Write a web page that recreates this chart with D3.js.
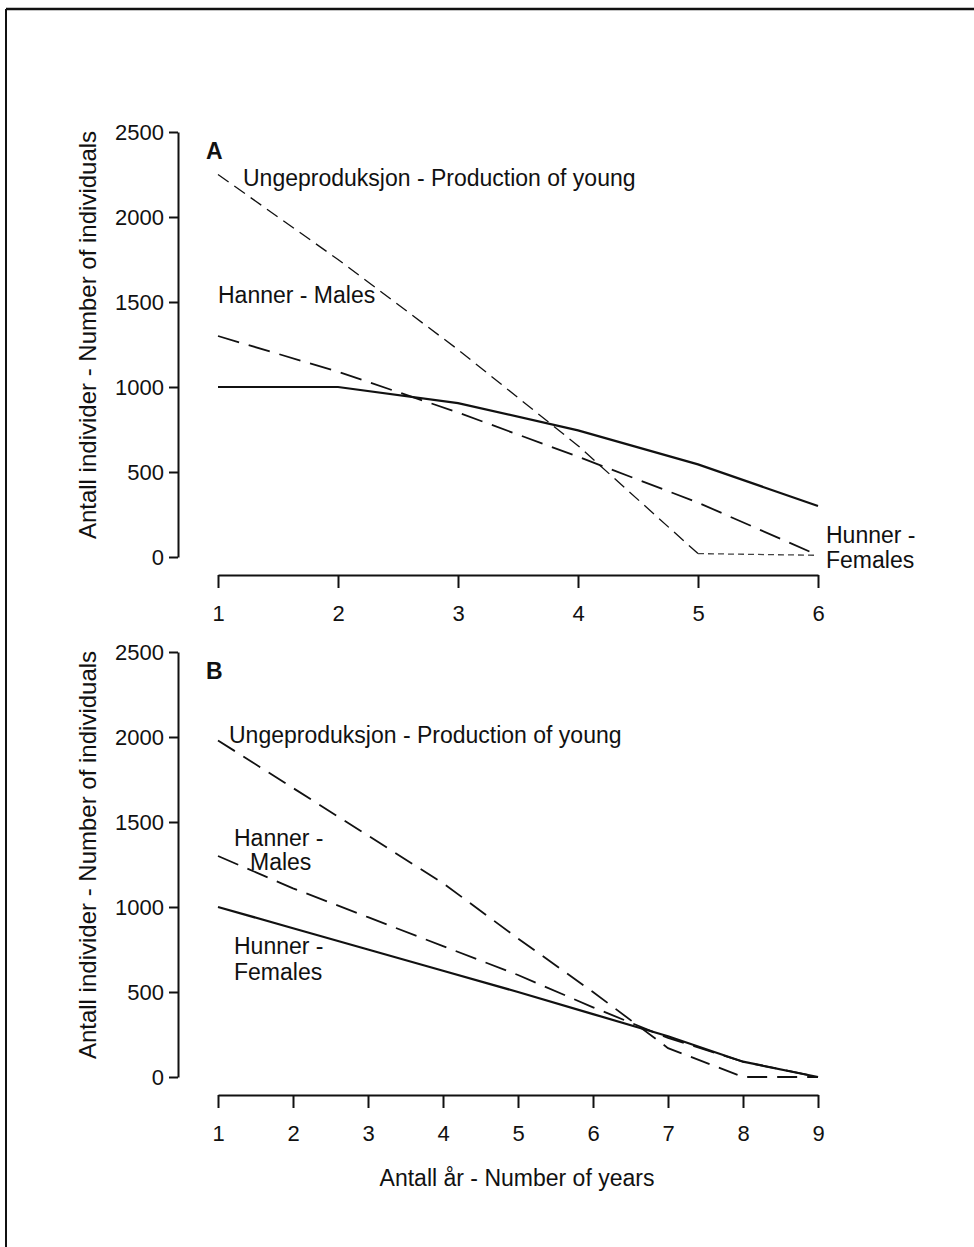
<!DOCTYPE html>
<html>
<head>
<meta charset="utf-8">
<script src="https://cdn.jsdelivr.net/npm/d3@7"></script>
<style>
  body { margin: 0; background: #fff; }
  svg text { font-family: "Liberation Sans", Arial, Helvetica, sans-serif; fill: #111; }
</style>
</head>
<body>
<svg width="974" height="1247"></svg>
<script>
// panel A
const yearsA = [1, 2, 3, 4, 5, 6];
const youngA = [2250, 1750, 1220, 655, 20, 10];
const malesA = [1300, 1090, 850, 590, 320, 10];
const femalesA = [1000, 1000, 905, 745, 545, 300];

// panel B
const yearsB = [1, 2, 3, 4, 5, 6, 7, 8, 9];
const youngB = [1980, 1700, 1420, 1140, 815, 500, 170, 0, 0];
const malesB = [1300, 1110, 940, 770, 600, 410, 230, 90, 0];
const femalesB = [1000, 875, 750, 625, 500, 370, 240, 90, 0];

const yTicks = [0, 500, 1000, 1500, 2000, 2500];

const svg = d3.select("svg");

// frame (top and left edges of the scanned box)
svg.append("line").attr("x1", 6).attr("y1", 9).attr("x2", 974).attr("y2", 9)
    .attr("stroke", "#111").attr("stroke-width", 2.5);
svg.append("line").attr("x1", 6).attr("y1", 9).attr("x2", 6).attr("y2", 1247)
    .attr("stroke", "#111").attr("stroke-width", 2);

function panel(opts) {
    const x = d3.scaleLinear().domain(d3.extent(opts.years)).range([218, 818]);
    const y = d3.scaleLinear().domain([0, 2500]).range([opts.y0, opts.y0 - 425]);

    const yAxis = svg.append("g")
        .attr("transform", "translate(178,0)")
        .call(d3.axisLeft(y).tickValues(yTicks).tickFormat(d3.format("d"))
            .tickSize(9).tickSizeOuter(0).tickPadding(5));
    const xAxis = svg.append("g")
        .attr("transform", `translate(0,${opts.y0 + 18})`)
        .call(d3.axisBottom(x).tickValues(opts.years).tickFormat(d3.format("d"))
            .tickSize(13).tickSizeOuter(0).tickPadding(17));

    [yAxis, xAxis].forEach(g => {
        g.select(".domain").attr("stroke", "#111").attr("stroke-width", 2);
        g.selectAll(".tick line").attr("stroke", "#111").attr("stroke-width", 2);
        g.selectAll(".tick text").attr("font-size", 22).attr("fill", "#111")
            .style("font-family", "Liberation Sans, Arial, sans-serif");
    });

    svg.append("text")
        .attr("transform", `translate(96,${opts.y0 - 222}) rotate(-90)`)
        .attr("text-anchor", "middle")
        .attr("font-size", 24)
        .text("Antall individer - Number of individuals");

    svg.append("text")
        .attr("x", 206).attr("y", opts.y0 - 398)
        .attr("font-size", 23).attr("font-weight", "bold")
        .text(opts.tag);

    const line = d3.line().x(d => x(d[0])).y(d => y(d[1]));

    opts.series.forEach(s => {
        const pts = opts.years.map((yr, i) => [yr, s.values[i]]);
        const main = s.cut ? pts.slice(0, s.cut) : pts;
        svg.append("path")
            .attr("d", line(main))
            .attr("fill", "none")
            .attr("stroke", "#111")
            .attr("stroke-width", s.width)
            .attr("stroke-dasharray", s.dash);
        if (s.cut) {
            svg.append("path")
                .attr("d", line(pts.slice(s.cut - 1)))
                .attr("fill", "none")
                .attr("stroke", "#444")
                .attr("stroke-width", 1.3)
                .attr("stroke-dasharray", "6,4");
        }
    });

    opts.labels.forEach(l => {
        svg.append("text")
            .attr("x", l.x).attr("y", l.y)
            .attr("font-size", 23)
            .text(l.text);
    });
}

panel({
    tag: "A",
    years: yearsA,
    y0: 557,
    series: [
        { values: youngA, dash: "13,7", width: 1.3, cut: 5 },
        { values: malesA, dash: "22,10", width: 1.8 },
        { values: femalesA, dash: null, width: 2.2 }
    ],
    labels: [
        { text: "Ungeproduksjon - Production of young", x: 243, y: 186 },
        { text: "Hanner - Males", x: 218, y: 303 },
        { text: "Hunner -", x: 826, y: 543 },
        { text: "Females", x: 826, y: 568 }
    ]
});

panel({
    tag: "B",
    years: yearsB,
    y0: 1077,
    series: [
        { values: youngB, dash: "20,10", width: 1.8 },
        { values: malesB, dash: "22,10", width: 1.8 },
        { values: femalesB, dash: null, width: 2.2 }
    ],
    labels: [
        { text: "Ungeproduksjon - Production of young", x: 229, y: 743 },
        { text: "Hanner -", x: 234, y: 846 },
        { text: "Males", x: 250, y: 870 },
        { text: "Hunner -", x: 234, y: 954 },
        { text: "Females", x: 234, y: 980 }
    ]
});

svg.append("text")
    .attr("x", 517).attr("y", 1186)
    .attr("text-anchor", "middle")
    .attr("font-size", 23)
    .text("Antall år - Number of years");
</script>
</body>
</html>
